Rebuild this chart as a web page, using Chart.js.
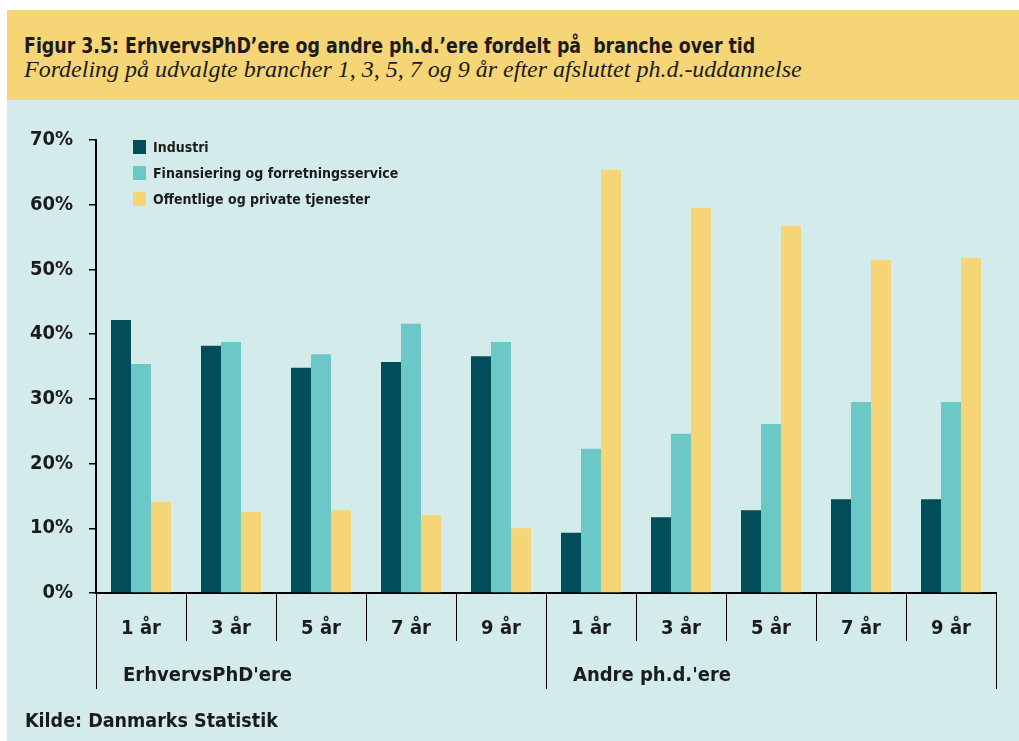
<!DOCTYPE html>
<html>
<head>
<meta charset="utf-8">
<script src="https://cdn.jsdelivr.net/npm/chart.js@4.4.1/dist/chart.umd.min.js"></script>
<style>
  html, body { margin:0; padding:0; background:#ffffff; }
  body { width:1019px; height:741px; position:relative; overflow:hidden; }
  #head { position:absolute; left:7px; top:10px; width:1012px; height:90px; background:#F6D576; }
  #title { position:absolute; left:17px; top:24px; font-family:'Liberation Sans Narrow','DejaVu Sans Condensed',sans-serif; font-weight:bold; font-size:21px; color:#1b1b1b; white-space:pre; transform:scaleX(0.92); transform-origin:0 0; }
  #sub { position:absolute; left:17px; top:46px; font-family:'Liberation Serif','DejaVu Serif',serif; font-style:italic; font-size:24px; color:#1b1b1b; white-space:pre; }
  #panel { position:absolute; left:7px; top:100px; width:1012px; height:641px; background:#D3ECEB; }
  #wrap { position:absolute; left:0; top:100px; width:1019px; height:641px; }
  #src { position:absolute; left:25px; top:709px; font-family:'Liberation Sans Narrow','DejaVu Sans Condensed',sans-serif; font-weight:bold; font-size:19.5px; color:#1b1b1b; }
</style>
</head>
<body>
<div id="head">
  <div id="title">Figur 3.5: ErhvervsPhD’ere og andre ph.d.’ere fordelt på  branche over tid</div>
  <div id="sub">Fordeling på udvalgte brancher 1, 3, 5, 7 og 9 år efter afsluttet ph.d.-uddannelse</div>
</div>
<div id="panel"></div>
<div id="wrap"><canvas id="c" width="1019" height="641"></canvas></div>
<div id="src">Kilde: Danmarks Statistik</div>
<script>
const categories = ["1 år","3 år","5 år","7 år","9 år","1 år","3 år","5 år","7 år","9 år"];
const groupLabels = ["ErhvervsPhD'ere", "Andre ph.d.'ere"];
const groupSizes = [5, 5];
const seriesNames = ["Industri", "Finansiering og forretningsservice", "Offentlige og private tjenester"];
const industri = [42.2, 38.2, 34.8, 35.7, 36.6, 9.3, 11.7, 12.8, 14.5, 14.5];
const finansiering = [35.4, 38.8, 36.9, 41.6, 38.8, 22.3, 24.6, 26.1, 29.5, 29.5];
const offentlige = [14.1, 12.5, 12.8, 12.0, 10.0, 65.4, 59.5, 56.7, 51.5, 51.8];
const yTicks = [0, 10, 20, 30, 40, 50, 60, 70];
const colors = ["#014E5A", "#6CC8C6", "#F6D576"];

const FONT = "'Liberation Sans Narrow','DejaVu Sans Condensed',sans-serif";

const extras = {
  id: 'extras',
  afterDraw(chart) {
    const ctx = chart.ctx;
    const x = chart.scales.x;
    const area = chart.chartArea;
    const step = x.getPixelForValue(1) - x.getPixelForValue(0);
    let idx = 0;
    const bounds = [x.getPixelForValue(0) - step / 2];
    groupSizes.forEach(n => { idx += n; bounds.push(x.getPixelForValue(idx - 1) + step / 2); });
    ctx.save();
    ctx.strokeStyle = '#000';
    ctx.lineWidth = 1;
    bounds.forEach(b => {
      const px = Math.round(b) + 0.5;
      ctx.beginPath(); ctx.moveTo(px, area.bottom); ctx.lineTo(px, area.bottom + 96); ctx.stroke();
    });
    ctx.fillStyle = '#1b1b1b';
    ctx.font = "bold 20px " + FONT;
    ctx.textBaseline = 'middle';
    ctx.textAlign = 'left';
    groupLabels.forEach((g, i) => {
      ctx.fillText(g, bounds[i] + 27, area.bottom + 83);
    });
    ctx.font = "bold 14px " + FONT;
    chart.data.datasets.forEach((ds, i) => {
      const ly = 40 + i * 26;
      ctx.fillStyle = ds.backgroundColor;
      ctx.fillRect(133, ly, 13, 14);
      ctx.fillStyle = '#1b1b1b';
      ctx.fillText(ds.label, 153, ly + 8);
    });
    ctx.restore();
  }
};

new Chart(document.getElementById('c'), {
  type: 'bar',
  data: {
    labels: categories,
    datasets: [
      { label: seriesNames[0], data: industri, backgroundColor: colors[0] },
      { label: seriesNames[1], data: finansiering, backgroundColor: colors[1] },
      { label: seriesNames[2], data: offentlige, backgroundColor: colors[2] }
    ]
  },
  options: {
    responsive: false,
    animation: false,
    layout: { padding: { left: 0, right: 23, top: 40, bottom: 48 } },
    datasets: { bar: { categoryPercentage: 0.667, barPercentage: 1.0, borderWidth: 0 } },
    plugins: { legend: { display: false }, tooltip: { enabled: false }, title: { display: false } },
    scales: {
      x: {
        offset: true,
        grid: { offset: true, drawOnChartArea: false, drawTicks: true, tickLength: 48, color: '#000', lineWidth: 1 },
        border: { display: true, color: '#000', width: 2 },
        ticks: { color: '#1b1b1b', font: { family: FONT, size: 20, weight: 'bold' }, padding: -24, maxRotation: 0, autoSkip: false },
        afterFit: s => { s.height = 100; }
      },
      y: {
        min: 0, max: 70,
        afterBuildTicks: s => { s.ticks = yTicks.map(v => ({ value: v })); },
        grid: { drawOnChartArea: false, drawTicks: true, tickLength: 7, color: '#000', lineWidth: 1.5 },
        border: { display: true, color: '#000', width: 2 },
        ticks: { color: '#1b1b1b', font: { family: FONT, size: 20, weight: 'bold' }, padding: 16, callback: v => v + '%' },
        afterFit: s => { s.width = 96; }
      }
    }
  },
  plugins: [extras]
});
</script>
</body>
</html>
